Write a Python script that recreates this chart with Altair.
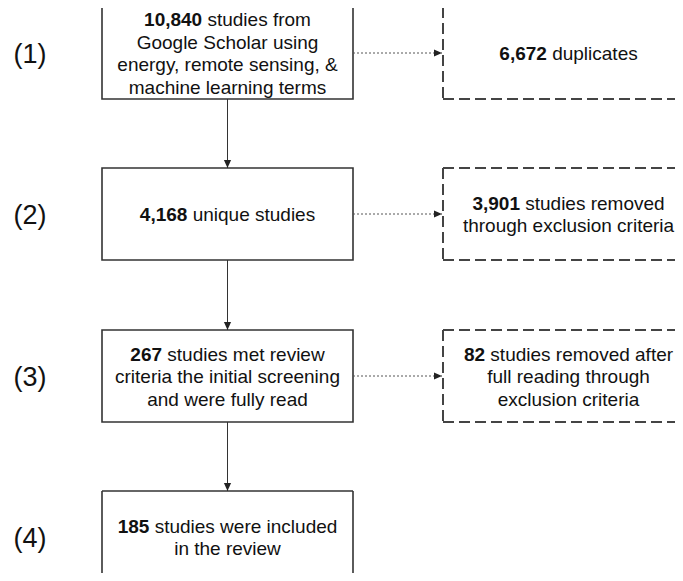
import altair as alt
import pandas as pd

# ---------------- data (texts of the flow diagram) ----------------
stage_labels = ["(1)", "(2)", "(3)", "(4)"]
kept_counts = ["10,840", "4,168", "267", "185"]
kept_texts = [
    ["studies from", "Google Scholar using", "energy, remote sensing, &", "machine learning terms"],
    ["unique studies"],
    ["studies met review", "criteria the initial screening", "and were fully read"],
    ["studies were included", "in the review"],
]
removed_counts = ["6,672", "3,901", "82"]
removed_texts = [
    ["duplicates"],
    ["studies removed", "through exclusion criteria"],
    ["studies removed after", "full reading through", "exclusion criteria"],
]

# ---------------- layout ----------------
W, H = 667, 565
X0, Y0 = 8, 8
XR, YB = X0 + W, Y0 + H          # visible right / bottom edge
row_centers = [53, 214, 376, 537]
box_h = 92
main_x = (102, 353)
side_x = (443, 694)
label_x = 30
font_size = 19
label_size = 27
line_h = 22.5
FONT = "Liberation Sans, Arial, Helvetica, sans-serif"
INK = "#111111"

# Arial / Liberation Sans advance widths (1/1000 em)
AW = {" ": 278, ",": 278, "&": 667, "(": 333, ")": 333, ".": 278,
      "a": 556, "b": 556, "c": 500, "d": 556, "e": 556, "f": 278, "g": 556, "h": 556,
      "i": 222, "j": 222, "k": 500, "l": 222, "m": 833, "n": 556, "o": 556, "p": 556,
      "q": 556, "r": 333, "s": 500, "t": 278, "u": 556, "v": 500, "w": 722, "x": 500,
      "y": 500, "z": 500, "G": 778, "S": 667}


def tw(s, size=font_size):
    return sum(AW.get(c, 556) for c in s) / 1000 * size


boxes, solid_edges, dash_edges, bold_l, reg_l, reg_c = [], [], [], [], [], []


def add_text(cx, cy, count, lines):
    n = len(lines)
    y_first = cy + 1 - (n - 1) * line_h / 2
    gap = tw(" ")
    total = tw(count) + gap + tw(lines[0])
    start = cx - total / 2
    bold_l.append({"x": start, "y": y_first, "t": count})
    reg_l.append({"x": start + tw(count) + gap, "y": y_first, "t": lines[0]})
    for i, ln in enumerate(lines[1:], start=1):
        reg_c.append({"x": cx, "y": y_first + i * line_h, "t": ln})


for i, cy in enumerate(row_centers):
    top, bot = cy - box_h / 2, cy + box_h / 2
    if bot <= YB:
        boxes.append({"x": main_x[0], "x2": main_x[1], "y": top, "y2": bot})
    else:  # box cut by the lower picture edge: top + two sides
        solid_edges += [
            {"x": main_x[0], "x2": main_x[1], "y": top, "y2": top},
            {"x": main_x[0], "x2": main_x[0], "y": top, "y2": YB},
            {"x": main_x[1], "x2": main_x[1], "y": top, "y2": YB},
        ]
    add_text((main_x[0] + main_x[1]) / 2, cy, kept_counts[i], kept_texts[i])

for i in range(len(removed_counts)):
    cy = row_centers[i]
    top, bot = cy - box_h / 2, cy + box_h / 2
    # box cut by the right picture edge: top, bottom and left side
    dash_edges += [
        {"x": side_x[0], "x2": XR, "y": top, "y2": top},
        {"x": side_x[0], "x2": XR, "y": bot, "y2": bot},
        {"x": side_x[0], "x2": side_x[0], "y": top, "y2": bot},
    ]
    add_text((side_x[0] + side_x[1]) / 2, cy, removed_counts[i], removed_texts[i])

cx_main = (main_x[0] + main_x[1]) / 2
vlines = [{"x": cx_main, "y": row_centers[i] + box_h / 2, "y2": row_centers[i + 1] - box_h / 2}
          for i in range(len(row_centers) - 1)]
hlines = [{"x": main_x[1], "x2": side_x[0] - 1, "y": row_centers[i]} for i in range(len(removed_counts))]
vheads = [{"x": v["x"], "y": v["y2"]} for v in vlines]
hheads = [{"x": h["x2"], "y": h["y"]} for h in hlines]
labels = [{"x": label_x, "y": row_centers[i] + 2, "t": t} for i, t in enumerate(stage_labels)]

xs = alt.Scale(domain=[X0, XR], nice=False, zero=False)
ys = alt.Scale(domain=[YB, Y0], nice=False, zero=False)
X = lambda f="x": alt.X(f + ":Q", scale=xs, axis=None)
Y = lambda f="y": alt.Y(f + ":Q", scale=ys, axis=None)

rect_main = alt.Chart(pd.DataFrame(boxes)).mark_rect(
    fill="white", stroke="#333333", strokeWidth=1.6
).encode(x=X(), x2="x2:Q", y=Y(), y2="y2:Q")

edge_solid = alt.Chart(pd.DataFrame(solid_edges)).mark_rule(
    color="#333333", strokeWidth=1.6
).encode(x=X(), x2="x2:Q", y=Y(), y2="y2:Q")

edge_dash = alt.Chart(pd.DataFrame(dash_edges)).mark_rule(
    color="#444444", strokeWidth=2, strokeDash=[11, 5]
).encode(x=X(), x2="x2:Q", y=Y(), y2="y2:Q")

vrule = alt.Chart(pd.DataFrame(vlines)).mark_rule(color="#333333", strokeWidth=1).encode(
    x=X(), y=Y(), y2="y2:Q")
hrule = alt.Chart(pd.DataFrame(hlines)).mark_rule(
    color="#555555", strokeWidth=1, strokeDash=[2, 2]).encode(x=X(), x2="x2:Q", y=Y())

vhead = alt.Chart(pd.DataFrame(vheads)).mark_point(
    shape="M0,0L-0.9,-2L0.9,-2Z", size=64, filled=True, opacity=1, color="#222222"
).encode(x=X(), y=Y())
hhead = alt.Chart(pd.DataFrame(hheads)).mark_point(
    shape="M0,0L-2,-0.9L-2,0.9Z", size=64, filled=True, opacity=1, color="#222222"
).encode(x=X(), y=Y())

t_bold = alt.Chart(pd.DataFrame(bold_l)).mark_text(
    align="left", baseline="middle", font=FONT, fontSize=font_size, fontWeight="bold", color=INK
).encode(x=X(), y=Y(), text="t:N")
t_reg = alt.Chart(pd.DataFrame(reg_l)).mark_text(
    align="left", baseline="middle", font=FONT, fontSize=font_size, color=INK
).encode(x=X(), y=Y(), text="t:N")
t_cen = alt.Chart(pd.DataFrame(reg_c)).mark_text(
    align="center", baseline="middle", font=FONT, fontSize=font_size, color=INK
).encode(x=X(), y=Y(), text="t:N")
t_lab = alt.Chart(pd.DataFrame(labels)).mark_text(
    align="center", baseline="middle", font=FONT, fontSize=label_size, color="#111111"
).encode(x=X(), y=Y(), text="t:N")

chart = alt.layer(
    rect_main, edge_solid, edge_dash, vrule, hrule, vhead, hhead, t_bold, t_reg, t_cen, t_lab
).properties(
    width=W, height=H, padding=0, autosize=alt.AutoSizeParams(type="none"),
    background="white"
).configure_view(stroke=None)

chart.save("out.html", embed_options={"renderer": "svg", "actions": False})
